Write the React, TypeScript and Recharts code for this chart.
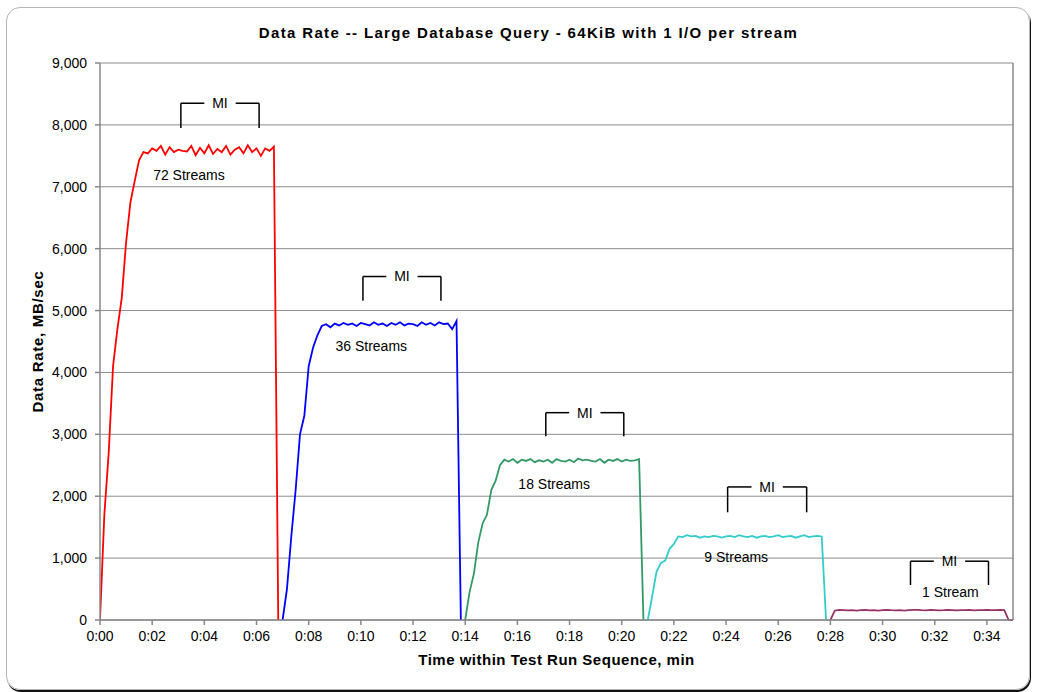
import React from 'react';
import {
  LineChart, Line, XAxis, YAxis, CartesianGrid, ReferenceLine, ReferenceDot,
} from 'recharts';

// samples every 10 s (6 per minute), values in MB/sec
const streams72 = [
  0, 1700, 2700, 4100, 4700, 5200, 6100, 6750, 7100, 7430, 7560,
  7540, 7620, 7580, 7660, 7520, 7640, 7560, 7600, 7580, 7570,
  7660, 7510, 7630, 7540, 7670, 7530, 7610, 7560, 7660, 7520,
  7600, 7640, 7540, 7670, 7560, 7620, 7500, 7620, 7580, 7650,
  0,
];
const streams36 = [
  0, 500, 1350, 2100, 3000, 3300, 4100, 4400, 4600, 4750,
  4780, 4730, 4790, 4760, 4800, 4770, 4790, 4750, 4800, 4780,
  4760, 4810, 4770, 4790, 4750, 4800, 4770, 4810, 4760, 4790,
  4780, 4750, 4810, 4770, 4800, 4760, 4810, 4780, 4790, 4700, 4830,
  0,
];
const streams18 = [
  0, 450, 750, 1250, 1560, 1700, 2100, 2250, 2500, 2590,
  2560, 2600, 2540, 2590, 2570, 2600, 2550, 2580, 2560, 2590,
  2540, 2600, 2570, 2560, 2590, 2550, 2610, 2580, 2590, 2570,
  2560, 2600, 2540, 2590, 2570, 2600, 2560, 2590, 2570, 2580, 2600,
  0,
];
const streams9 = [
  0, 380, 780, 920, 960, 1150, 1230, 1350,
  1340, 1370, 1350, 1360, 1330, 1350, 1340, 1360, 1350, 1330,
  1350, 1360, 1340, 1370, 1350, 1340, 1360, 1330, 1350, 1360,
  1340, 1350, 1370, 1340, 1350, 1360, 1330, 1350, 1370, 1340,
  1350, 1360, 1350,
  0,
];
const streams1 = [
  0,
  150, 165, 160, 155, 160, 150, 158, 162, 155, 160,
  152, 158, 165, 158, 155, 160, 150, 158, 162, 165,
  158, 155, 162, 160, 155, 158, 165, 160, 155, 158,
  160, 162, 155, 158, 160, 165, 160, 158, 162, 160,
  0, 0,
];

const seriesKeys = ['s72', 's36', 's18', 's9', 's1'];
const seriesStart = [0, 7, 14, 21, 28]; // minutes
const seriesValues = [streams72, streams36, streams18, streams9, streams1];
const seriesColors = ['#ff0000', '#0000ff', '#339966', '#33cccc', '#993366'];

const streamLabels = ['72 Streams', '36 Streams', '18 Streams', '9 Streams', '1 Stream'];
const labelX = [3.41, 10.4, 17.41, 24.39, 32.6];
const labelY = [7190, 4420, 2190, 1020, 450];

// measurement interval brackets
const miStart = [3.1, 10.08, 17.09, 24.06, 31.07];
const miEnd = [6.1, 13.07, 20.08, 27.09, 34.06];
const miTop = [8350, 5550, 3350, 2150, 950];
const miBottom = [7950, 5160, 2970, 1740, 565];
const MI_GAP = 0.6;

const xTicks = [0, 2, 4, 6, 8, 10, 12, 14, 16, 18, 20, 22, 24, 26, 28, 30, 32, 34];
const yTicks = [0, 1000, 2000, 3000, 4000, 5000, 6000, 7000, 8000, 9000];

const SAMPLES_PER_MIN = 6;

const rows: Record<string, number>[] = [];
seriesKeys.forEach((key, s) => {
  seriesValues[s].forEach((v, k) => {
    const g = seriesStart[s] * SAMPLES_PER_MIN + k;
    if (!rows[g]) rows[g] = { t: g / SAMPLES_PER_MIN };
    rows[g][key] = v;
  });
});

const FONT = '"Liberation Sans", Arial, sans-serif';
const axisColor = '#888888';

export default function App() {
  return (
    <div style={{ fontFamily: FONT }}>
      <div
        style={{
          position: 'absolute', left: 6, top: 7, width: 1024, height: 683,
          boxSizing: 'border-box', border: '1px solid #b4b4b4', borderRadius: 14,
          boxShadow: '1px 2px 0 #111',
        }}
      />
      <div
        style={{
          position: 'absolute', left: 18, top: 24, width: 1021, textAlign: 'center',
          fontWeight: 'bold', fontSize: 15, letterSpacing: 1.35, color: '#000',
          lineHeight: 'normal',
        }}
      >
        Data Rate -- Large Database Query - 64KiB with 1 I/O per stream
      </div>
      <div style={{ position: 'absolute', left: 6, top: 7 }}>
        <LineChart
          width={1024}
          height={683}
          data={rows}
          margin={{ top: 56, right: 17, left: 10, bottom: 20 }}
          style={{ fontFamily: FONT }}
        >
          <CartesianGrid vertical={false} stroke="#8c8c8c" />
          <XAxis
            type="number"
            dataKey="t"
            domain={[0, 35]}
            ticks={xTicks}
            allowDataOverflow
            height={50}
            tickFormatter={(v: number) => `0:${String(v).padStart(2, '0')}`}
            tick={{ fill: '#000', fontSize: 14 }}
            tickSize={5}
            tickMargin={6}
            stroke={axisColor}
            strokeWidth={1.5}
            label={{
              value: 'Time within Test Run Sequence, min',
              position: 'insideBottom',
              offset: 5,
              style: { fontWeight: 'bold', fontSize: 15, letterSpacing: 0.5, fill: '#000' },
            }}
          />
          <YAxis
            type="number"
            domain={[0, 9000]}
            ticks={yTicks}
            width={84}
            tickFormatter={(v: number) => v.toLocaleString('en-US')}
            tick={{ fill: '#000', fontSize: 14 }}
            tickSize={5}
            tickMargin={8}
            stroke={axisColor}
            strokeWidth={1.5}
            label={{
              value: 'Data Rate, MB/sec',
              angle: -90,
              position: 'insideLeft',
              offset: 22,
              style: {
                fontWeight: 'bold', fontSize: 15, letterSpacing: 0.7, fill: '#000',
                textAnchor: 'middle',
              },
            }}
          />
          <ReferenceLine x={35} stroke={axisColor} strokeWidth={1.5} />
          {seriesKeys.map((key, s) => (
            <Line
              key={key}
              type="linear"
              dataKey={key}
              stroke={seriesColors[s]}
              strokeWidth={1.8}
              dot={false}
              activeDot={false}
              isAnimationActive={false}
            />
          ))}
          {miStart.map((x0, i) => {
            const x1 = miEnd[i];
            const mid = (x0 + x1) / 2;
            const top = miTop[i];
            const bot = miBottom[i];
            return (
              <React.Fragment key={`mi${i}`}>
                <ReferenceLine segment={[{ x: x0, y: top }, { x: mid - MI_GAP, y: top }]} stroke="#000" strokeWidth={1.5} />
                <ReferenceLine segment={[{ x: mid + MI_GAP, y: top }, { x: x1, y: top }]} stroke="#000" strokeWidth={1.5} />
                <ReferenceLine segment={[{ x: x0, y: top }, { x: x0, y: bot }]} stroke="#000" strokeWidth={1.5} />
                <ReferenceLine segment={[{ x: x1, y: top }, { x: x1, y: bot }]} stroke="#000" strokeWidth={1.5} />
                <ReferenceDot
                  x={mid}
                  y={top}
                  r={0}
                  fill="none"
                  stroke="none"
                  label={{ value: 'MI', position: 'center', style: { fontSize: 14, fill: '#000' } }}
                />
              </React.Fragment>
            );
          })}
          {streamLabels.map((txt, i) => (
            <ReferenceDot
              key={txt}
              x={labelX[i]}
              y={labelY[i]}
              r={0}
              fill="none"
              stroke="none"
              label={{ value: txt, position: 'center', style: { fontSize: 14, fill: '#000' } }}
            />
          ))}
        </LineChart>
      </div>
    </div>
  );
}
